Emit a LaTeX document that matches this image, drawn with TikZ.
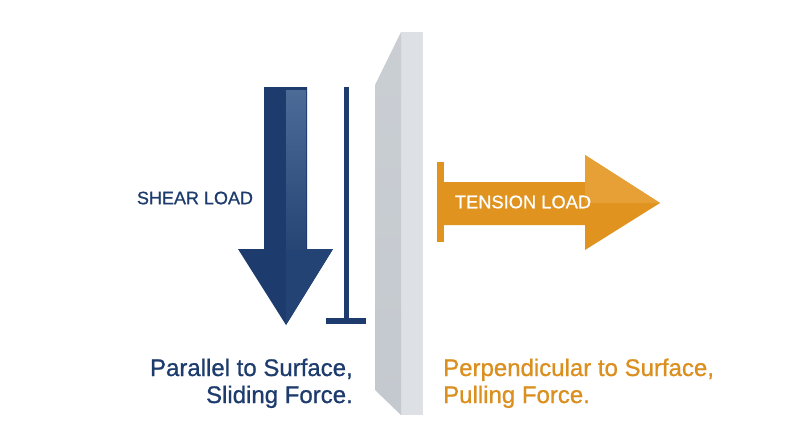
\documentclass[tikz,border=0pt]{standalone}
\usepackage{fontspec}
\setmainfont{Liberation Sans}
\newfontfamily\medfont[FakeBold=0.8]{Liberation Sans}
\definecolor{navy}{HTML}{1D3B6C}
\definecolor{navylight}{HTML}{4D6B97}
\definecolor{navymid}{HTML}{234375}
\definecolor{orng}{HTML}{E0931F}
\definecolor{orngl}{HTML}{E7A035}
\definecolor{orngtxt}{HTML}{DA8F1E}
\definecolor{wallfront}{HTML}{C4C9CF}
\definecolor{wallside}{HTML}{DDE0E4}
\begin{document}
\begin{tikzpicture}[x=1pt,y=-1pt,
  navytext/.style={text=navy,inner sep=0pt,font=\medfont\fontsize{24}{28}\selectfont},
  orangetext/.style={text=orngtxt,inner sep=0pt,font=\medfont\fontsize{24}{28}\selectfont}]
\useasboundingbox[fill=white] (0,0) rectangle (800,447);
% wall
\fill[wallside] (401,32) rectangle (423,415);
\shade[top color=wallfront!90!white,bottom color=wallfront] (375,85) -- (401,32) -- (401,415) -- (375,390) -- cycle;
% shear arrow
\fill[navy] (264,87) -- (307,87) -- (307,249) -- (333,249) -- (286,325) -- (238,249) -- (264,249) -- cycle;
\fill[navymid] (286,249) -- (333,249) -- (286,325) -- cycle;
\shade[top color=navylight,bottom color=navy!80!navylight] (286,90) rectangle (306,249);
% bar
\fill[navy] (343.5,87) rectangle (349,320);
\fill[navy] (326,318) rectangle (366,324);
\node[text=navy,inner sep=0pt,font=\medfont\fontsize{18}{20}\selectfont] (shear) at (195,198) {SHEAR LOAD};
% tension arrow
\fill[orng] (437,162) rectangle (444,242);
\fill[orng] (444,182) -- (585,182) -- (585,155) -- (660,203) -- (585,250) -- (585,225) -- (444,225) -- cycle;
\fill[orngl] (585,155) -- (660,203) -- (585,203) -- cycle;
\node[text=white,inner sep=0pt,font=\medfont\fontsize{18.3}{20}\selectfont] (tension) at (523,202) {TENSION LOAD};
% captions
\node[navytext,anchor=base east] (p1) at (353,376) {Parallel to Surface,};
\node[navytext,anchor=base east] (p2) at (353,403) {Sliding Force.};
\node[orangetext,anchor=base west] (q1) at (443,376) {Perpendicular to Surface,};
\node[orangetext,anchor=base west] (q2) at (443,403) {Pulling Force.};
\end{tikzpicture}
\end{document}
